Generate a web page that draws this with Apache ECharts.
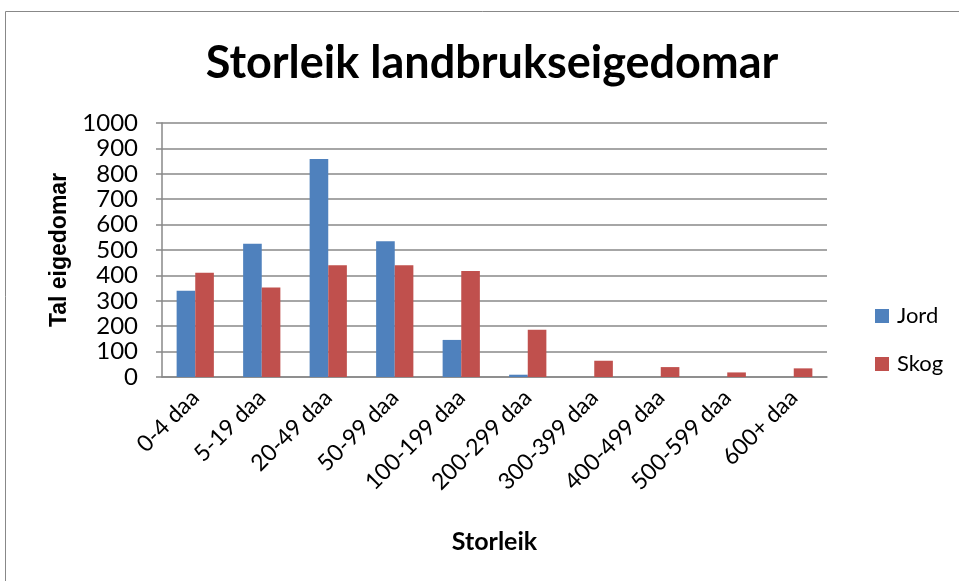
<!DOCTYPE html>
<html><head><meta charset="utf-8">
<script src="https://cdn.jsdelivr.net/npm/echarts@6/dist/echarts.min.js"></script>
<style>html,body{margin:0;padding:0;background:#fff}#c{width:959px;height:581px}</style>
</head><body><div id="c"></div>
<script>
const categories = ['0-4 daa','5-19 daa','20-49 daa','50-99 daa','100-199 daa','200-299 daa','300-399 daa','400-499 daa','500-599 daa','600+ daa'];
const jord = [340, 525, 858, 534, 146, 9, 0, 0, 0, 0];
const skog = [410, 352, 440, 440, 417, 186, 64, 39, 18, 34];
const yTicks = [0, 100, 200, 300, 400, 500, 600, 700, 800, 900, 1000];

const FONT = 'Lato, "Open Sans", sans-serif';
const chart = echarts.init(document.getElementById('c'), null, {renderer: 'canvas'});
chart.setOption({
  animation: false,
  backgroundColor: '#fff',
  graphic: [{type: 'rect', shape: {x: 5.5, y: 11.5, width: 960, height: 580}, style: {fill: 'none', stroke: '#888', lineWidth: 1}}],
  title: {text: 'Storleik landbrukseigedomar', left: 487, top: 36, textAlign: 'center',
    textStyle: {fontFamily: FONT, fontSize: 45, fontWeight: 'bold', color: '#000'}},
  legend: {orient: 'vertical', left: 870, top: 300, itemGap: 26, itemWidth: 14, itemHeight: 14,
    icon: 'rect', textStyle: {fontFamily: FONT, fontSize: 22, color: '#000', padding: [0,0,0,3]}, data: ['Jord','Skog']},
  grid: {left: 162, right: 132, top: 123, bottom: 204},
  xAxis: {type: 'category', data: categories, name: 'Storleik', nameLocation: 'middle', nameGap: 152,
    nameTextStyle: {fontFamily: FONT, fontSize: 25, fontWeight: 'bold', color: '#000'},
    axisLine: {lineStyle: {color: '#888', width: 1.5}},
    axisTick: {length: 6, lineStyle: {color: '#888', width: 1.5}},
    axisLabel: {rotate: 45, interval: 0, fontFamily: FONT, fontSize: 23, color: '#000', margin: 17}},
  yAxis: {type: 'value', min: 0, max: 1000, interval: 100, name: 'Tal eigedomar', nameLocation: 'middle', nameGap: 88,
    nameTextStyle: {fontFamily: '"Liberation Sans", Arial, sans-serif', fontSize: 23, fontWeight: 'bold', color: '#000'},
    axisLine: {show: true, lineStyle: {color: '#888', width: 1.5}},
    axisTick: {show: true, length: 6, lineStyle: {color: '#888', width: 1.5}},
    splitLine: {lineStyle: {color: '#888', width: 1.5}},
    axisLabel: {fontFamily: FONT, fontSize: 24, color: '#000', margin: 24,
      formatter: v => yTicks.includes(v) ? String(v) : ''}},
  series: [
    {name: 'Jord', type: 'bar', data: jord, barGap: '0%', barCategoryGap: '44%', itemStyle: {color: '#4F81BD'}},
    {name: 'Skog', type: 'bar', data: skog, barGap: '0%', barCategoryGap: '44%', itemStyle: {color: '#C0504D'}}
  ]
});
</script></body></html>
